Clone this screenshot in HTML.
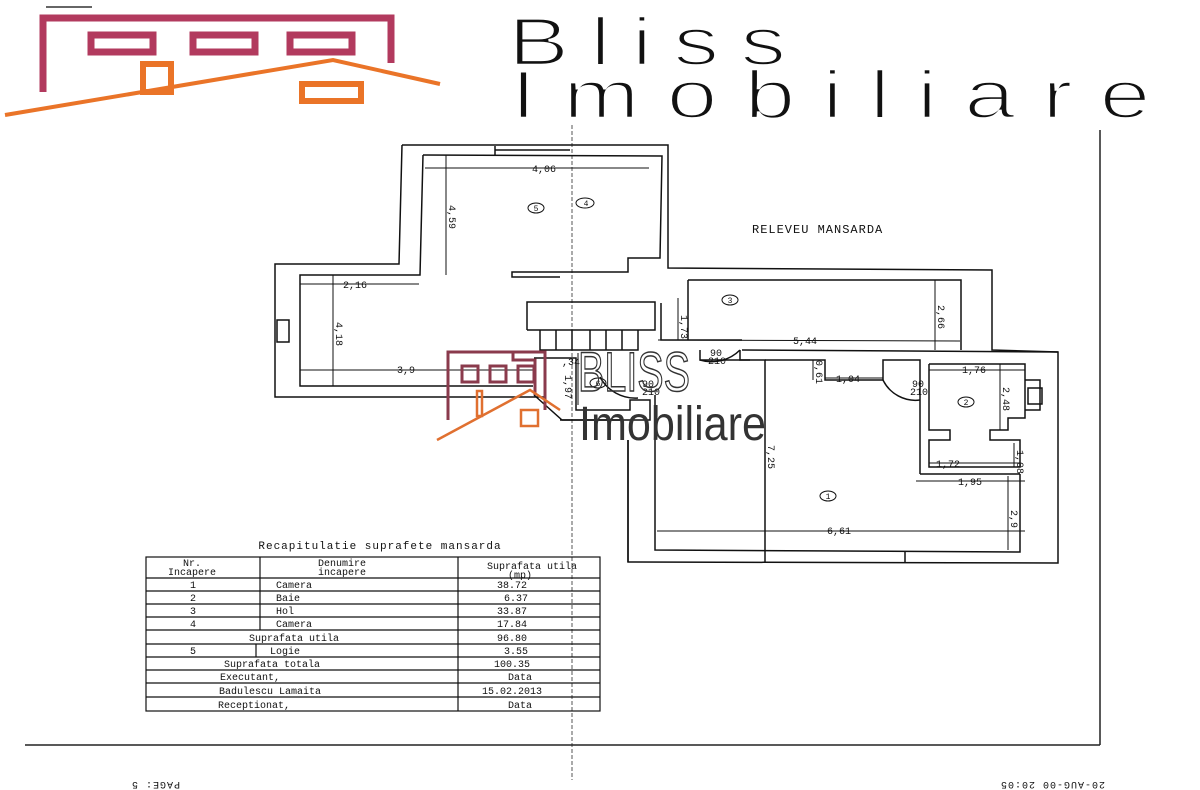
<!DOCTYPE html>
<html><head><meta charset="utf-8"><style>
html,body{margin:0;padding:0;background:#fff;width:1200px;height:790px;overflow:hidden}
svg{display:block}
.m{font-family:"Liberation Mono",monospace;fill:#111}
</style></head><body>
<svg width="1200" height="790" viewBox="0 0 1200 790" xmlns="http://www.w3.org/2000/svg">
<g fill="none" stroke="#b23a5e" stroke-width="7">
<polyline points="43,92 43,18 391,18 391,63"/>
<rect x="91" y="35" width="62" height="17"/>
<rect x="193" y="35" width="62" height="17"/>
<rect x="290" y="35" width="62" height="17"/>
</g>
<g fill="none" stroke="#ea7428">
<polyline points="5,115 333,60 440,84" stroke-width="4"/>
<rect x="143" y="64" width="28" height="28" stroke-width="6"/>
<rect x="302" y="84" width="59" height="17" stroke-width="6"/>
</g>
<line x1="46" y1="7" x2="92" y2="7" stroke="#333" stroke-width="1.5"/>
<g font-family="Liberation Sans,sans-serif" fill="#111" stroke="#fff" stroke-width="2.5" transform="translate(508,0) scale(1.35,1)">
<text x="0" y="65" font-size="68" textLength="206" lengthAdjust="spacing">Bliss</text>
<text x="2" y="118" font-size="68" textLength="474" lengthAdjust="spacing">Imobiliare</text>
</g>

<line x1="572" y1="125" x2="572" y2="780" stroke="#555" stroke-width="1" stroke-dasharray="4,2"/>
<line x1="1100" y1="130" x2="1100" y2="745" stroke="#222" stroke-width="1.5"/>
<line x1="25" y1="745" x2="1100" y2="745" stroke="#222" stroke-width="1.5"/>

<g fill="none" stroke="#111" stroke-width="1.5">
<polyline points="402,145 668,145 668,268 992,270 992,350 1058,352 1058,563 628,562 628,440"/>
<polyline points="402,145 399,264 275,264 275,397 545,397"/>
<polyline points="423,155 662,156 660,258 628,258 628,272 512,272 512,277 560,277"/>
<polyline points="423,155 420,275 300,275 300,386 533,386"/>
<line x1="495" y1="146" x2="495" y2="155"/>
<line x1="495" y1="150" x2="570" y2="150"/>
<rect x="277" y="320" width="12" height="22"/>
<polyline points="527,330 527,302 655,302 655,330 527,330"/>
<polyline points="540,330 540,350 638,350 638,330"/>
<line x1="556" y1="330" x2="556" y2="350"/><line x1="572" y1="330" x2="572" y2="350"/>
<line x1="590" y1="330" x2="590" y2="350"/><line x1="606" y1="330" x2="606" y2="350"/>
<line x1="622" y1="330" x2="622" y2="350"/>
<polyline points="661,303 661,340 742,340"/>
<polyline points="688,280 961,280 961,350"/>
<polyline points="688,280 688,340"/>
<polyline points="700,350 700,360 750,360"/>
<polyline points="742,350 1058,352"/>
<polyline points="740,350 740,360 765,360 765,562"/>
<polyline points="765,360 825,360 825,380 883,380 883,360 920,360 920,474"/>
<polyline points="655,395 655,550 1020,552 1020,474"/>
<polyline points="628,440 628,562"/>
<line x1="905" y1="552" x2="905" y2="562"/>
<polyline points="929,364 1025,364 1025,418 1008,418 1008,430 990,430 990,440 1020,440 1020,467 929,467 929,440 950,440 950,430 929,430 929,364"/>
<line x1="920" y1="474" x2="1020" y2="474"/>
<rect x="1028" y="388" width="14" height="16"/>
<polyline points="1025,380 1040,380 1040,410 1025,410"/>
<polyline points="534,358 576,358 576,410 630,410 630,400 650,400 650,420 562,420 534,395"/>
<polyline points="560,420 620,420"/>
<path d="M700,360 A40,40 0 0 0 740,350" />
<path d="M883,380 A36,36 0 0 0 920,400"/>
<path d="M600,377 A40,40 0 0 0 638,398"/>
</g>
<g stroke="#111" stroke-width="1" fill="none">
<line x1="425" y1="168" x2="649" y2="168"/>
<line x1="446" y1="155" x2="446" y2="275"/>
<line x1="300" y1="284" x2="419" y2="284"/>
<line x1="333" y1="275" x2="333" y2="386"/>
<line x1="300" y1="370" x2="533" y2="370"/>
<line x1="678" y1="298" x2="678" y2="340"/>
<line x1="658" y1="340" x2="960" y2="341"/>
<line x1="935" y1="280" x2="935" y2="350"/>
<line x1="765" y1="360" x2="765" y2="560"/>
<line x1="813" y1="360" x2="813" y2="380"/>
<line x1="825" y1="378" x2="883" y2="378"/>
<line x1="929" y1="370" x2="1025" y2="370"/>
<line x1="1000" y1="364" x2="1000" y2="430"/>
<line x1="929" y1="463" x2="1020" y2="463"/>
<line x1="1014" y1="443" x2="1014" y2="467"/>
<line x1="916" y1="481" x2="1025" y2="481"/>
<line x1="1008" y1="476" x2="1008" y2="550"/>
<line x1="657" y1="531" x2="1025" y2="531"/>
<line x1="578" y1="353" x2="578" y2="405"/>
</g>
<g class="m" font-size="10">
<text x="532" y="172">4,06</text>
<text x="343" y="288">2,16</text>
<text x="397" y="373">3,9</text>
<text x="793" y="344">5,44</text>
<text x="836" y="382">1,04</text>
<text x="962" y="373">1,76</text>
<text x="936" y="467">1,72</text>
<text x="958" y="485">1,95</text>
<text x="827" y="534">6,61</text>
<text x="710" y="356">90</text><text x="708" y="364">210</text>
<text x="912" y="387">90</text><text x="910" y="395">210</text>
<text x="642" y="387">90</text><text x="642" y="395">210</text>
<text x="562" y="365">,34</text>
<g transform="rotate(90)">
<text x="205" y="-449">4,59</text>
<text x="322" y="-336">4,18</text>
<text x="315" y="-681">1,73</text>
<text x="305" y="-938">2,66</text>
<text x="445" y="-768">7,25</text>
<text x="360" y="-816">0,61</text>
<text x="387" y="-1003">2,48</text>
<text x="450" y="-1017">1,08</text>
<text x="510" y="-1011">2,9</text>
<text x="375" y="-565">1,97</text>
</g>
</g>
<g fill="none" stroke="#111" stroke-width="1"><ellipse cx="536" cy="208" rx="8" ry="5"/><ellipse cx="585" cy="203" rx="9" ry="5"/><ellipse cx="730" cy="300" rx="8" ry="5"/><ellipse cx="966" cy="402" rx="8" ry="5"/><ellipse cx="828" cy="496" rx="8" ry="5"/><ellipse cx="598" cy="383" rx="8" ry="5"/></g>
<g class="m" font-size="8" text-anchor="middle"><text x="536" y="211">5</text><text x="586" y="206">4</text><text x="730" y="303">3</text><text x="966" y="405">2</text><text x="828" y="499">1</text><text x="598" y="386">6</text></g>
<text x="752" y="233" class="m" font-size="12" letter-spacing="1">RELEVEU MANSARDA</text>

<g fill="none" stroke="#8a3a4c" stroke-width="3">
<polyline points="448,420 448,352 545,352 545,410"/>
<rect x="462" y="366" width="16" height="16"/><rect x="490" y="366" width="16" height="16"/><rect x="518" y="366" width="16" height="16"/>
<polyline points="513,352 513,360 535,360 535,395"/>
</g>
<g fill="none" stroke="#e07030" stroke-width="2.5">
<polyline points="437,440 530,390 560,410"/>
<rect x="477" y="391" width="5" height="25"/>
<rect x="521" y="410" width="17" height="16"/>
</g>
<text x="578" y="391" font-family="Liberation Sans,sans-serif" font-size="56" fill="none" stroke="#333" stroke-width="1.5" textLength="112" lengthAdjust="spacingAndGlyphs">BLISS</text>
<text x="579" y="440" font-family="Liberation Sans,sans-serif" font-size="48" fill="#333" textLength="187" lengthAdjust="spacingAndGlyphs">Imobiliare</text>

<text x="380" y="549" class="m" font-size="11" text-anchor="middle" letter-spacing="1">Recapitulatie suprafete mansarda</text>
<g stroke="#111" stroke-width="1.2" fill="none">
<rect x="146" y="557" width="454" height="154"/>
<line x1="458" y1="557" x2="458" y2="711"/>
<line x1="260" y1="557" x2="260" y2="630"/>
<line x1="256" y1="644" x2="256" y2="657"/>
<line x1="146" y1="578" x2="600" y2="578"/>
<line x1="146" y1="591" x2="600" y2="591"/>
<line x1="146" y1="604" x2="600" y2="604"/>
<line x1="146" y1="617" x2="600" y2="617"/>
<line x1="146" y1="630" x2="600" y2="630"/>
<line x1="146" y1="644" x2="600" y2="644"/>
<line x1="146" y1="657" x2="600" y2="657"/>
<line x1="146" y1="670" x2="600" y2="670"/>
<line x1="146" y1="683" x2="600" y2="683"/>
<line x1="146" y1="697" x2="600" y2="697"/>
</g>
<g class="m" font-size="10" text-anchor="middle">
<text x="192" y="566">Nr.</text><text x="192" y="575">Incapere</text>
<text x="342" y="566">Denumire</text><text x="342" y="575">incapere</text>
<text x="532" y="569">Suprafata utila</text><text x="520" y="578">(mp)</text>
<text x="193" y="588">1</text><text x="193" y="601">2</text><text x="193" y="614">3</text><text x="193" y="627">4</text><text x="193" y="654">5</text>
<text x="512" y="588">38.72</text><text x="516" y="601">6.37</text><text x="512" y="614">33.87</text><text x="512" y="627">17.84</text>
<text x="512" y="641">96.80</text><text x="516" y="654">3.55</text><text x="512" y="667">100.35</text>
<text x="520" y="680">Data</text><text x="512" y="694">15.02.2013</text><text x="520" y="708">Data</text>
<text x="294" y="641">Suprafata utila</text>
<text x="272" y="667">Suprafata totala</text>
<text x="250" y="680">Executant,</text>
<text x="270" y="694">Badulescu Lamaita</text>
<text x="254" y="708">Receptionat,</text>
</g>
<g class="m" font-size="10">
<text x="276" y="588">Camera</text><text x="276" y="601">Baie</text><text x="276" y="614">Hol</text><text x="276" y="627">Camera</text><text x="270" y="654">Logie</text>
</g>

<g class="m" font-size="10" fill="#444">
<text transform="translate(180,782) rotate(180)" letter-spacing="1">PAGE: 5</text>
<text transform="translate(1105,782) rotate(180)" letter-spacing="1">20-AUG-00 20:05</text>
</g>
</svg>
</body></html>
